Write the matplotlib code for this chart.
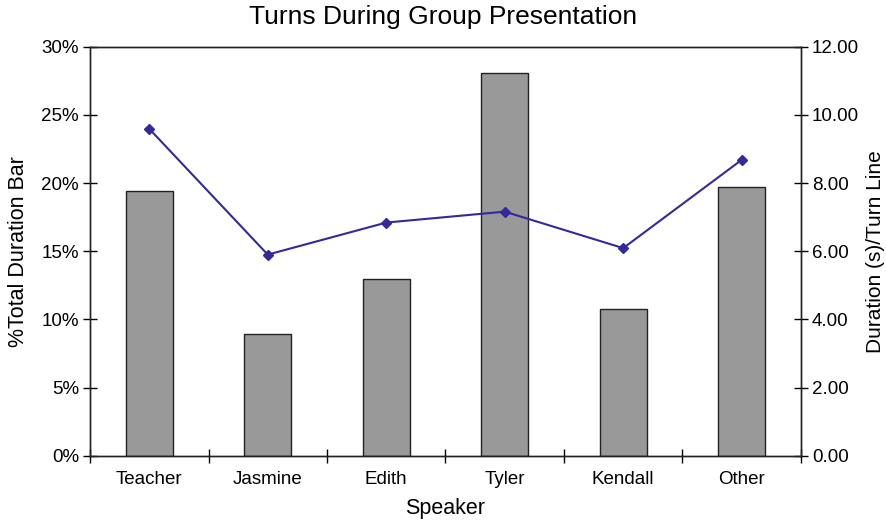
import matplotlib
matplotlib.use("Agg")
import matplotlib.pyplot as plt
from matplotlib.ticker import FuncFormatter

plt.rcParams['font.family'] = ['Liberation Sans', 'DejaVu Sans']

speakers = ["Teacher", "Jasmine", "Edith", "Tyler", "Kendall", "Other"]
pct_total_duration = [19.4, 8.93, 12.99, 28.05, 10.74, 19.74]
duration_per_turn = [9.59, 5.90, 6.84, 7.16, 6.09, 8.68]

fig = plt.figure(figsize=(8.86, 5.21), dpi=100)
ax = fig.add_axes([0.1016, 0.1253, 0.8024, 0.7851])
x = list(range(len(speakers)))

ax.bar(x, pct_total_duration, width=0.40, color="#999999",
       edgecolor="#222222", linewidth=1.0, zorder=2)
ax.set_xlim(-0.5, len(speakers) - 0.5)
ax.set_ylim(0, 30)
ax.set_yticks(range(0, 31, 5))
ax.yaxis.set_major_formatter(FuncFormatter(lambda v, p: f"{int(v)}%"))
ax.set_xticks(x)
ax.set_xticklabels(speakers)
ax.set_xticks([i + 0.5 for i in range(-1, len(speakers))], minor=True)
ax.tick_params(axis="x", which="major", length=0, pad=11, labelsize=13.5)
ax.tick_params(axis="x", which="minor", direction="inout", length=10, width=1)
ax.tick_params(axis="y", direction="inout", length=10, width=1, labelsize=13.5, pad=3)
ax.set_xlabel("Speaker", fontsize=15.5, labelpad=7)
ax.set_ylabel("%Total Duration Bar", fontsize=15.5, labelpad=9)
for s in ax.spines.values():
    s.set_linewidth(1.0)
    s.set_color("#222222")

ax2 = ax.twinx()
ax2.plot(x, duration_per_turn, color="#33299a", linewidth=1.5,
         marker="D", markersize=5.5, zorder=3)
ax2.set_ylim(0, 12)
ax2.set_yticks(range(0, 13, 2))
ax2.yaxis.set_major_formatter(FuncFormatter(lambda v, p: f"{v:.2f}"))
ax2.tick_params(axis="y", direction="inout", length=10, width=1, labelsize=13.5, pad=3)
ax2.set_ylabel("Duration (s)/Turn Line", fontsize=15, labelpad=5)
for s in ax2.spines.values():
    s.set_linewidth(1.0)
    s.set_color("#222222")

fig.suptitle("Turns During Group Presentation", fontsize=19, y=0.99)

fig.savefig("out.png", dpi=100)
